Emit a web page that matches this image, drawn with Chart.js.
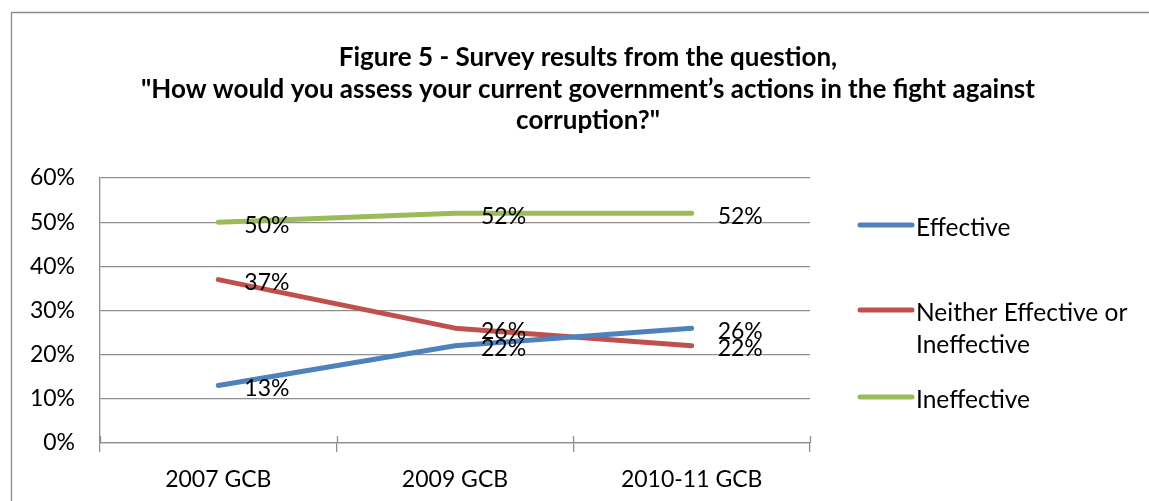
<!DOCTYPE html>
<html>
<head>
<meta charset="utf-8">
<script src="https://cdn.jsdelivr.net/npm/chart.js@4.4.0/dist/chart.umd.min.js"></script>
<style>
  html, body { margin: 0; padding: 0; background: #ffffff; }
  #wrap { width: 1149px; height: 501px; position: relative; }
</style>
</head>
<body>
<div id="wrap"><canvas id="c" width="1149" height="501"></canvas></div>
<script>
const categories = ['2007 GCB', '2009 GCB', '2010-11 GCB'];
const seriesNames = ['Effective', 'Neither Effective or Ineffective', 'Ineffective'];
const legendLines = [['Effective'], ['Neither Effective or', 'Ineffective'], ['Ineffective']];
const effective = [13, 22, 26];
const neither = [37, 26, 22];
const ineffective = [50, 52, 52];
const yTicks = [0, 10, 20, 30, 40, 50, 60];
const titleLines = [
  'Figure 5 - Survey results from the question,',
  '"How would you assess your current government\u2019s actions in the fight against',
  'corruption?"'
];

const FONT = 'Lato, "Open Sans", sans-serif';
const colors = ['#4F81BD', '#C0504D', '#9BBB59'];
const gridColor = '#8f8f8f';

const framePlugin = {
  id: 'frame',
  beforeDraw(chart) {
    const ctx = chart.ctx;
    ctx.save();
    ctx.fillStyle = '#ffffff';
    ctx.fillRect(0, 0, chart.width, chart.height);
    ctx.strokeStyle = '#8c8c8c';
    ctx.lineWidth = 1.3;
    ctx.beginPath();
    ctx.moveTo(11.5, chart.height + 2);
    ctx.lineTo(11.5, 12.5);
    ctx.lineTo(chart.width + 2, 12.5);
    ctx.stroke();
    ctx.restore();
  }
};

const titlePlugin = {
  id: 'customTitle',
  afterDraw(chart) {
    const ctx = chart.ctx;
    ctx.save();
    ctx.fillStyle = '#000';
    ctx.font = 'bold 26px ' + FONT;
    ctx.textAlign = 'center';
    ctx.textBaseline = 'middle';
    titleLines.forEach((t, i) => ctx.fillText(t, 588, 58 + i * 31.5));
    ctx.restore();
  }
};

const innerTickPlugin = {
  id: 'innerTicks',
  afterDatasetsDraw(chart) {
    const x = chart.scales.x;
    const ctx = chart.ctx;
    ctx.save();
    ctx.strokeStyle = gridColor;
    ctx.lineWidth = 1.3;
    for (let i = 0; i <= categories.length; i++) {
      const px = Math.round(x.getPixelForValue(i - 0.5)) + 0.5;
      ctx.beginPath();
      ctx.moveTo(px, x.top - 7);
      ctx.lineTo(px, x.top);
      ctx.stroke();
    }
    ctx.restore();
  }
};

const labelPlugin = {
  id: 'pointLabels',
  afterDatasetsDraw(chart) {
    const ctx = chart.ctx;
    ctx.save();
    ctx.fillStyle = '#000';
    ctx.font = '23px ' + FONT;
    ctx.textAlign = 'left';
    ctx.textBaseline = 'middle';
    chart.data.datasets.forEach((ds, di) => {
      const meta = chart.getDatasetMeta(di);
      meta.data.forEach((pt, i) => {
        ctx.fillText(ds.data[i] + '%', pt.x + 26, pt.y + 3);
      });
    });
    ctx.restore();
  }
};

const legendPlugin = {
  id: 'customLegend',
  afterDraw(chart) {
    const ctx = chart.ctx;
    const area = chart.chartArea;
    const lx = area.right + 48;
    const tops = [225, 310, 397];
    ctx.save();
    ctx.font = '24.5px ' + FONT;
    ctx.textAlign = 'left';
    ctx.textBaseline = 'middle';
    chart.data.datasets.forEach((ds, di) => {
      const y = tops[di];
      ctx.strokeStyle = ds.borderColor;
      ctx.lineWidth = 5;
      ctx.lineCap = 'round';
      ctx.beginPath();
      ctx.moveTo(lx + 2, y);
      ctx.lineTo(lx + 54, y);
      ctx.stroke();
      ctx.fillStyle = '#000';
      legendLines[di].forEach((t, li) => ctx.fillText(t, lx + 58, y + 3 + li * 32));
    });
    ctx.restore();
  }
};

new Chart(document.getElementById('c'), {
  type: 'line',
  data: {
    labels: categories,
    datasets: [
      { label: seriesNames[0], data: effective, borderColor: colors[0], backgroundColor: colors[0] },
      { label: seriesNames[1], data: neither, borderColor: colors[1], backgroundColor: colors[1] },
      { label: seriesNames[2], data: ineffective, borderColor: colors[2], backgroundColor: colors[2] }
    ].map(d => Object.assign(d, {
      borderWidth: 5, pointRadius: 0, pointHoverRadius: 0, tension: 0,
      borderCapStyle: 'round', borderJoinStyle: 'round', fill: false
    }))
  },
  options: {
    responsive: false,
    animation: false,
    events: [],
    layout: { padding: { top: 178, right: 339, bottom: 0, left: 0 } },
    plugins: {
      legend: { display: false },
      title: { display: false },
      tooltip: { enabled: false }
    },
    scales: {
      x: {
        type: 'category',
        offset: true,
        afterFit(s) { s.height = 58; },
        grid: {
          offset: true, drawOnChartArea: false, drawTicks: true,
          tickLength: 9, color: gridColor, lineWidth: 1.3
        },
        border: { display: true, color: gridColor, width: 1.3 },
        ticks: { color: '#000', font: { family: FONT, size: 23 }, padding: 14, maxRotation: 0 }
      },
      y: {
        min: 0, max: 60,
        afterFit(s) { s.width = 100; },
        afterBuildTicks(s) { s.ticks = yTicks.map(v => ({ value: v })); },
        grid: { color: gridColor, lineWidth: 1.3, drawTicks: false },
        border: { display: true, color: gridColor, width: 1.3 },
        ticks: {
          color: '#000', font: { family: FONT, size: 23 }, padding: 25,
          callback: v => v + '%'
        }
      }
    }
  },
  plugins: [framePlugin, innerTickPlugin, labelPlugin, titlePlugin, legendPlugin]
});
</script>
</body>
</html>
